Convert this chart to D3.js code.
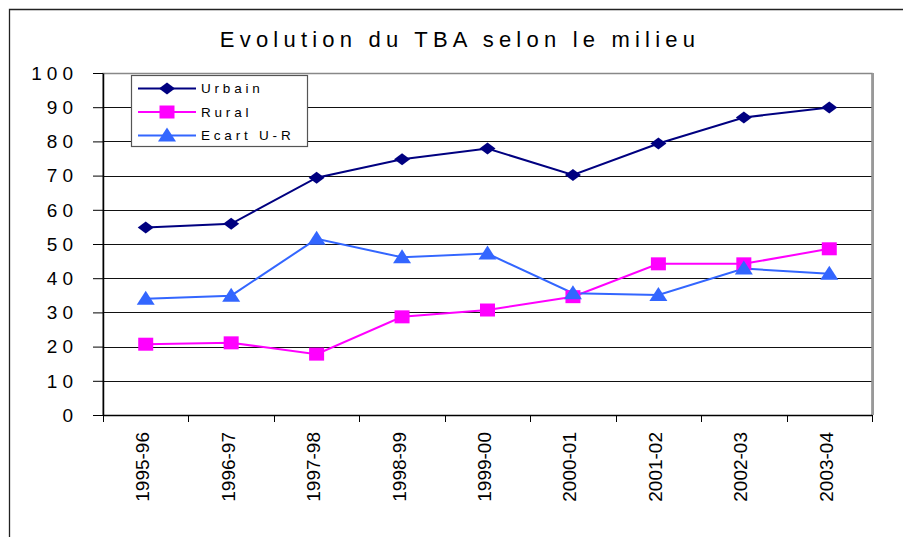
<!DOCTYPE html>
<html>
<head>
<meta charset="utf-8">
<script src="https://cdn.jsdelivr.net/npm/d3@7"></script>
<style>
  body { margin: 0; background: #fff; }
  text { font-family: Arial, "Liberation Sans", sans-serif; fill: #000; }
</style>
</head>
<body>
<script>
// donnees
var annees = ["1995-96", "1996-97", "1997-98", "1998-99", "1999-00", "2000-01", "2001-02", "2002-03", "2003-04"];
var urbain = [54.8, 55.9, 69.4, 74.8, 77.9, 70.2, 79.4, 87.0, 89.9];
var rural = [20.7, 21.1, 17.8, 28.7, 30.7, 34.6, 44.2, 44.2, 48.6];
var ecart = [34.0, 34.9, 51.5, 46.1, 47.2, 35.6, 35.1, 42.8, 41.3];
var yTicks = [0, 10, 20, 30, 40, 50, 60, 70, 80, 90, 100];
var seriesNames = ["Urbain", "Rural", "Ecart U-R"];

var W = 903, H = 537;
var margin = {top: 73, right: 31, bottom: 122, left: 103};
var width = W - margin.left - margin.right;
var height = H - margin.top - margin.bottom;

var svg = d3.select("body").append("svg")
  .attr("width", W)
  .attr("height", H);

// cadre exterieur
svg.append("path")
  .attr("d", `M9.5 ${H + 5} L9.5 9.5 L${W + 5} 9.5`)
  .style("fill", "none")
  .style("stroke", "#222")
  .style("stroke-width", 1.3);

svg.append("text")
  .attr("x", 460)
  .attr("y", 47)
  .attr("text-anchor", "middle")
  .style("font-size", "22px")
  .style("letter-spacing", "5.2px")
  .text("Evolution du TBA selon le milieu");

var g = svg.append("g").attr("transform", `translate(${margin.left}, ${margin.top})`);

var x = d3.scaleBand().domain(annees).range([0, width]);
var y = d3.scaleLinear().domain([0, 100]).range([height, 0]);

// grille
g.selectAll(".grid")
  .data(yTicks.filter(function(d){ return d > 0 && d < 100; }))
  .enter().append("line")
  .attr("class", "grid")
  .attr("x1", 0).attr("x2", width)
  .attr("y1", function(d){ return Math.round(y(d)) + 0.5; })
  .attr("y2", function(d){ return Math.round(y(d)) + 0.5; })
  .style("stroke", "#111")
  .style("stroke-width", 1);

// bord de la zone de trace
g.append("path")
  .attr("d", `M0 ${height} L0 0.5 L${width} 0.5 L${width} ${height}`)
  .style("fill", "none")
  .style("stroke", "#888")
  .style("stroke-width", 1.5);
g.append("line")
  .attr("x1", width + 1).attr("x2", width + 1)
  .attr("y1", 0).attr("y2", height)
  .style("stroke", "#999").style("stroke-width", 2);

// axe Y (les libelles sont faits a part a cause de l'espacement des lettres)
var yAxis = g.append("g")
  .call(d3.axisLeft(y).tickValues(yTicks).tickSize(10).tickSizeOuter(0).tickFormat(""));
yAxis.select(".domain").style("stroke", "#000").style("stroke-width", 1.5);
yAxis.selectAll(".tick line").style("stroke", "#000");

var ySpacing = 5;
g.selectAll(".yl")
  .data(yTicks)
  .enter().append("text")
  .attr("class", "yl")
  .attr("x", -30 + ySpacing)
  .attr("y", function(d){ return y(d); })
  .attr("dy", "0.36em")
  .attr("text-anchor", "end")
  .style("font-size", "19px")
  .style("letter-spacing", ySpacing + "px")
  .text(function(d){ return d; });

// axe X
var xTickPos = annees.map(function(d){ return x(d); }).concat([width]);
var xAxis = g.append("g").attr("transform", `translate(0, ${height})`);
xAxis.append("line")
  .attr("x1", 0).attr("x2", width)
  .attr("y1", 0.5).attr("y2", 0.5)
  .style("stroke", "#000").style("stroke-width", 1.5);
xAxis.selectAll(".xt")
  .data(xTickPos)
  .enter().append("line")
  .attr("class", "xt")
  .attr("x1", function(d){ return Math.round(d) + 0.5; })
  .attr("x2", function(d){ return Math.round(d) + 0.5; })
  .attr("y1", 0).attr("y2", 7)
  .style("stroke", "#000");
xAxis.selectAll(".xl")
  .data(annees)
  .enter().append("text")
  .attr("class", "xl")
  .attr("transform", function(d){ return `translate(${x(d) + x.bandwidth() / 2 + 3.5}, 17) rotate(-90)`; })
  .attr("text-anchor", "end")
  .style("font-size", "19px")
  .text(function(d){ return d; });

// series
var colors = ["#000080", "#ff00ff", "#3366ff"];
var series = [urbain, rural, ecart];

// formes des marqueurs (un peu plus larges que hautes, comme sur l'original)
var diamond = { draw: function(c){ c.moveTo(-8, 0); c.lineTo(0, -6); c.lineTo(8, 0); c.lineTo(0, 6); c.closePath(); } };
var square = { draw: function(c){ c.rect(-7.5, -6.5, 15, 13); } };
var triangle = { draw: function(c){ c.moveTo(-9, 6); c.lineTo(0, -8); c.lineTo(9, 6); c.closePath(); } };
var symbols = [
  d3.symbol().type(diamond),
  d3.symbol().type(square),
  d3.symbol().type(triangle)
];

var line = d3.line()
  .x(function(d, i){ return x(annees[i]) + x.bandwidth() / 2; })
  .y(function(d){ return y(d); });

series.forEach(function(s, k){
  g.append("path")
    .datum(s)
    .attr("d", line)
    .style("fill", "none")
    .style("stroke", colors[k])
    .style("stroke-width", 2);
});
series.forEach(function(s, k){
  g.selectAll(".m" + k)
    .data(s)
    .enter().append("path")
    .attr("class", "m" + k)
    .attr("d", symbols[k])
    .attr("transform", function(d, i){
      return `translate(${x(annees[i]) + x.bandwidth() / 2}, ${y(d)})`;
    })
    .style("fill", colors[k])
    .style("stroke", "none");
});

// legende
var leg = svg.append("g").attr("transform", "translate(131, 75)");
leg.append("rect")
  .attr("x", 0.5).attr("y", 0.5)
  .attr("width", 176).attr("height", 71)
  .style("fill", "#fff")
  .style("stroke", "#555")
  .style("stroke-width", 1.2);
seriesNames.forEach(function(n, k){
  var ly = 13.5 + k * 23.5;
  leg.append("line")
    .attr("x1", 7).attr("x2", 65)
    .attr("y1", ly).attr("y2", ly)
    .style("stroke", colors[k]).style("stroke-width", 2);
  leg.append("path")
    .attr("d", symbols[k])
    .attr("transform", `translate(36, ${ly})`)
    .style("fill", colors[k]);
  leg.append("text")
    .attr("x", 70).attr("y", ly)
    .attr("dy", "0.36em")
    .style("font-size", "13.5px")
    .style("letter-spacing", "3.8px")
    .text(n);
});
</script>
</body>
</html>
